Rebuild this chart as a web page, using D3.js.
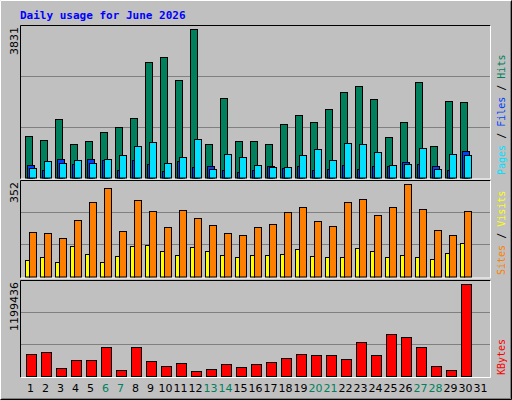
<!DOCTYPE html>
<html><head><meta charset="utf-8">
<script src="https://cdn.jsdelivr.net/npm/d3@7"></script>
<style>body{margin:0;background:#c0c0c0}svg{display:block}</style></head>
<body><svg id="c" width="512" height="400"></svg>
<script>
const days = d3.range(1,32);
const weekends = [6,7,13,14,20,21,27,28];
const hits = [1075,971,1517,867,945,1179,1309,1543,2973,3103,2505,3831,867,2063,945,945,867,1387,1621,1439,1777,2193,2349,2037,1049,1439,2453,815,1985,1959,0];
const files = [243,425,373,451,373,477,581,815,919,373,529,997,217,607,529,321,269,269,581,737,451,893,867,659,321,347,763,217,607,581,0];
const pages = [321,191,477,347,477,451,191,451,347,165,425,269,295,191,139,191,295,243,295,191,217,321,217,295,295,399,347,295,191,685,0];
const visits = [168,165,145,214,283,337,172,291,249,187,253,222,195,165,157,187,199,245,264,210,191,283,295,233,264,352,256,176,157,249,0];
const sites = [61,73,57,115,84,54,77,115,119,96,80,111,96,80,73,80,80,84,103,77,73,73,107,96,73,80,73,65,88,126,0];
const kbytes = [293293,306425,109438,214498,214498,372088,83173,372088,201365,135703,175100,70040,96305,161968,122570,161968,188233,240763,293293,280160,280160,227630,437750,280160,542810,503413,372088,135703,83173,1199436,0];

const svg = d3.select("#c");
// outer bevel
svg.append("rect").attr("x",0).attr("y",0).attr("width",512).attr("height",400).attr("fill","#c0c0c0");
svg.append("path").attr("d","M0.5,399.5V0.5H511.5").attr("stroke","#fff").attr("fill","none");
svg.append("path").attr("d","M0.5,399.5H511.5V0.5").attr("stroke","#000").attr("fill","none");
svg.append("path").attr("d","M1.5,398.5H510.5V1.5").attr("stroke","#808080").attr("fill","none");
svg.append("text").attr("x",20).attr("y",19).text("Daily usage for June 2026")
  .attr("font-family","DejaVu Sans Mono").attr("font-weight","bold").attr("font-size",11).attr("fill","#0000ff");

const x = d3.scaleBand().domain(days).range([20,485]);
const L=20,R=491;
const panels = [
  {top:25,base:177.5,max:3831,label:"3831"},
  {top:180,base:276.5,max:352,label:"352"},
  {top:280,base:376,max:1199436,label:"1199436"}
];
panels.forEach(p=>{
  p.y = d3.scaleLinear().domain([0,p.max]).range([p.base,p.top+4]);
  svg.append("rect").attr("x",L).attr("y",p.top).attr("width",R-L).attr("height",p.base-p.top+1).attr("fill","#c0c0c0");
  svg.append("path").attr("d",`M${L+.5},${p.base+1.5}V${p.top+.5}H${R-.5}`).attr("stroke","#000").attr("fill","none");
  svg.append("path").attr("d",`M${L+.5},${p.base+1.5}H${R-.5}V${p.top+.5}`).attr("stroke","#fff").attr("fill","none");
  const h=p.base-p.top;
  [1,2].forEach(k=>svg.append("line").attr("x1",L+1).attr("x2",R-1)
    .attr("y1",Math.round(p.top+h*k/3)+.5).attr("y2",Math.round(p.top+h*k/3)+.5).attr("stroke","#808080"));
  svg.append("text").attr("transform",`translate(18,${p.top+2}) rotate(-90)`).attr("text-anchor","end")
    .attr("font-family","DejaVu Sans").attr("font-size",11).attr("fill","#000").text(p.label);
});
function bars(data,pi,off,w,color){
  const p=panels[pi];
  svg.append("g").selectAll("rect").data(data.map((v,i)=>({v,d:days[i]})).filter(o=>o.v>0)).join("rect")
    .attr("x",o=>x(o.d)+off+.5).attr("y",o=>Math.round(p.y(o.v))+.5).attr("width",w)
    .attr("height",o=>p.base-Math.round(p.y(o.v))).attr("fill",color).attr("stroke","#000");
}
bars(hits,0,5,7,"#00805c");
bars(pages,0,7,7,"#0040ff");
bars(files,0,9,7,"#00e0ff");
bars(sites,1,5,4,"#ffff00");
bars(visits,1,9,7,"#ff8000");
bars(kbytes,2,6,10,"#ff0000");

svg.append("g").selectAll("text").data(days).join("text")
  .attr("x",d=>x(d)+x.bandwidth()/2+3).attr("y",392).attr("text-anchor","middle")
  .attr("font-family","DejaVu Sans").attr("font-size",11)
  .attr("fill",d=>weekends.includes(d)?"#00805c":"#000").text(d=>d);

function rlabel(yEnd,parts){
  const t=svg.append("text").attr("transform",`translate(505,${yEnd}) rotate(-90)`)
    .attr("font-family","DejaVu Sans Mono").attr("font-size",10);
  parts.forEach(([s,c])=>t.append("tspan").attr("fill",c).text(s));
}
rlabel(175,[["Pages","#00e0ff"],[" / ","#000"],["Files","#0040ff"],[" / ","#000"],["Hits","#00805c"]]);
rlabel(275,[["Sites","#ff8000"],[" / ","#000"],["Visits","#ffff00"]]);
rlabel(375,[["KBytes","#ff0000"]]);
</script></body></html>
